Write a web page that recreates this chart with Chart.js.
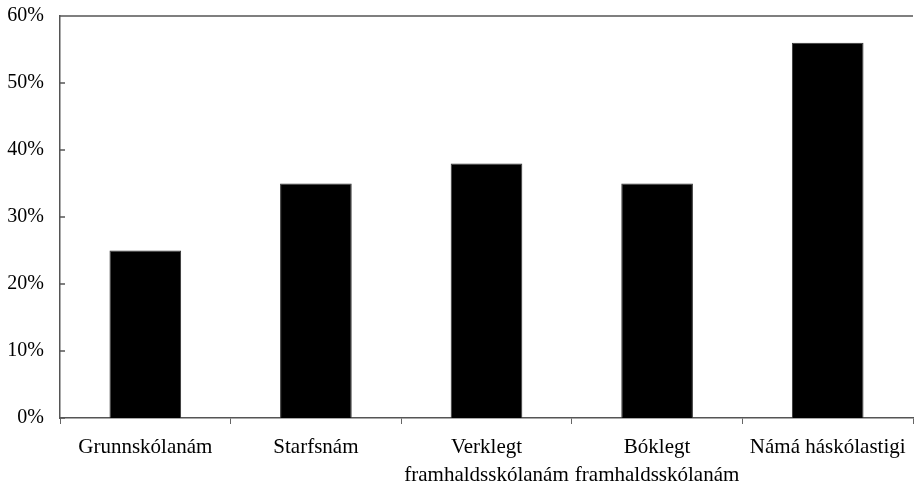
<!DOCTYPE html>
<html>
<head>
<meta charset="utf-8">
<script src="https://cdn.jsdelivr.net/npm/chart.js@4/dist/chart.umd.min.js"></script>
<style>
  html, body { margin: 0; padding: 0; background: #fff; }
  #wrap { width: 914px; height: 490px; }
</style>
</head>
<body>
<div id="wrap"><canvas id="chart"></canvas></div>
<script>
// ── Data ──────────────────────────────────────────────
const categories = [
  'Grunnskólanám',
  'Starfsnám',
  ['Verklegt', 'framhaldsskólanám'],
  ['Bóklegt', 'framhaldsskólanám'],
  'Námá háskólastigi',
];
const shares = [25, 35, 38, 35, 56];
const yTicks = [0, 10, 20, 30, 40, 50, 60];

Chart.defaults.font.family = "'Liberation Serif', 'Times New Roman', serif";
Chart.defaults.color = '#000';

// top frame line + inward y ticks
const framePlugin = {
  id: 'frame',
  afterDraw(chart) {
    const { ctx, chartArea: a, scales } = chart;
    ctx.save();
    ctx.strokeStyle = '#555';
    ctx.lineWidth = 1.5;
    ctx.beginPath();
    ctx.moveTo(a.left, a.top);
    ctx.lineTo(a.right, a.top);
    yTicks.forEach(v => {
      const y = scales.y.getPixelForValue(v);
      ctx.moveTo(a.left, y);
      ctx.lineTo(a.left + 5, y);
    });
    ctx.stroke();
    ctx.restore();
  },
};

// no extra label overflow padding, the chart area is set by layout.padding
function noPad(scale) {
  scale.paddingLeft = 0;
  scale.paddingRight = 0;
  scale.paddingTop = 0;
  scale.paddingBottom = 0;
}

new Chart(document.getElementById('chart'), {
  type: 'bar',
  data: {
    labels: categories,
    datasets: [{
      data: shares,
      backgroundColor: '#000',
      borderColor: '#333',
      borderWidth: 1,
      categoryPercentage: 0.42,
      barPercentage: 1,
    }],
  },
  options: {
    responsive: true,
    maintainAspectRatio: false,
    animation: false,
    layout: { padding: { top: 16, right: 1, left: 0, bottom: 0 } },
    plugins: { legend: { display: false }, tooltip: { enabled: false } },
    scales: {
      x: {
        afterFit(scale) { noPad(scale); scale.height = 72; },
        grid: { offset: true, drawOnChartArea: false, drawTicks: true, tickLength: 6, color: '#666', lineWidth: 1 },
        border: { color: '#555', width: 1.5 },
        ticks: { font: { size: 21, lineHeight: 1.33 }, padding: 10, maxRotation: 0, autoSkip: false },
      },
      y: {
        min: 0,
        max: 60,
        afterBuildTicks(scale) { scale.ticks = yTicks.map(v => ({ value: v })); },
        afterFit(scale) { noPad(scale); scale.width = 60; },
        grid: { display: false, drawTicks: false },
        border: { color: '#555', width: 1.5 },
        ticks: {
          font: { size: 20 },
          padding: 16,
          callback: v => v + '%',
        },
      },
    },
  },
  plugins: [framePlugin],
});
</script>
</body>
</html>
